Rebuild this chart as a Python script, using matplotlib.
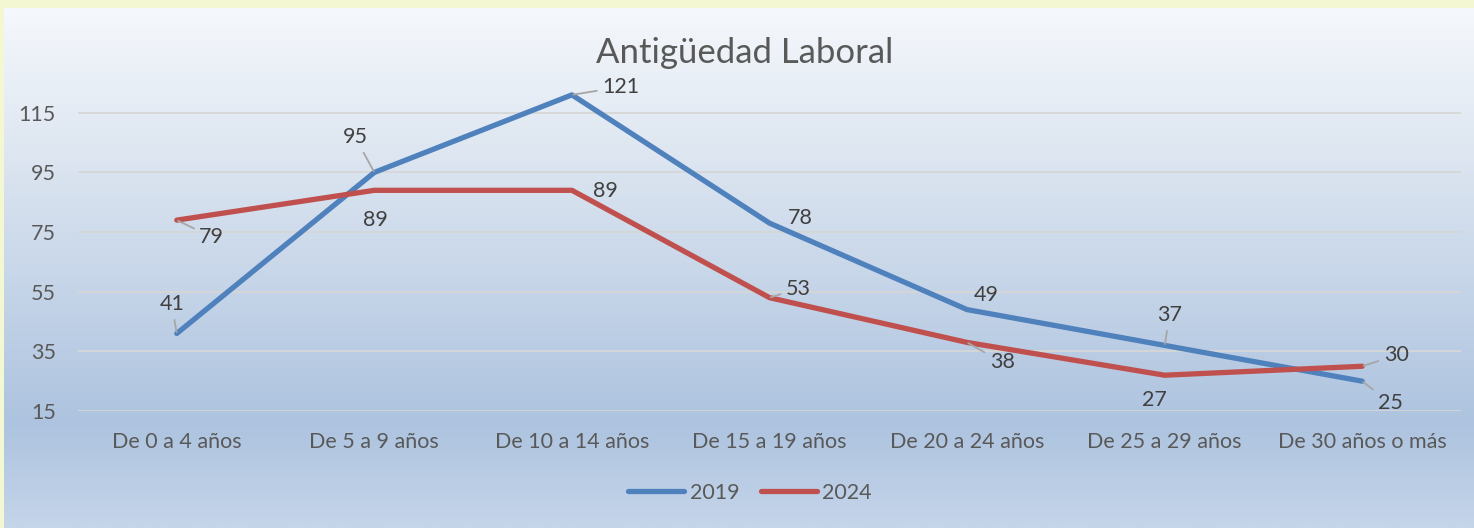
import numpy as np
import matplotlib.pyplot as plt
from matplotlib.colors import LinearSegmentedColormap

# Antigüedad laboral, 2019 vs 2024
categorias = ['De 0 a 4 años', 'De 5 a 9 años', 'De 10 a 14 años', 'De 15 a 19 años',
              'De 20 a 24 años', 'De 25 a 29 años', 'De 30 años o más']
v2019 = [41, 95, 121, 78, 49, 37, 25]
v2024 = [79, 89, 89, 53, 38, 27, 30]
yticks = [15, 35, 55, 75, 95, 115]

# label offsets in pixels (dx, dy) and whether a leader line is drawn
off2019 = [(-5, 29, True), (-19, 35, True), (49, 8, True), (31, 5, False),
           (19, 15, False), (5, 30, True), (28, -22, True)]
off2024 = [(35, -17, True), (1, -30, False), (34, -1, False), (29, 9, True),
           (35, -20, True), (-10, -25, False), (34, 11, True)]

W, H = 1474, 528
fig = plt.figure(figsize=(W / 100, H / 100), dpi=100)

# background: yellow strip + blue gradient chart area
bg = fig.add_axes([0, 0, 1, 1], zorder=-2)
bg.add_patch(plt.Rectangle((0, 0), W, H, color='#f3f8d2', zorder=0))
cmap = LinearSegmentedColormap.from_list('g', [(0, '#f5f8fc'), (0.25, '#e0e8f2'),
                                               (0.8, '#adc3df'), (1, '#c5d5ea')])
grad = np.linspace(0, 1, 256).reshape(-1, 1)
bg.imshow(grad, cmap=cmap, extent=(4, W, H, 8), aspect='auto', zorder=1)
bg.set_xlim(0, W)
bg.set_ylim(H, 0)
bg.axis('off')

ax = fig.add_axes([78 / W, 117 / H, (1461 - 78) / W, (454 - 117) / H])
ax.patch.set_alpha(0)
x = np.arange(len(categorias))
ax.plot(x, v2019, color='#4f81bd', lw=3.8, label='2019', solid_capstyle='round', zorder=3)
ax.plot(x, v2024, color='#c0504d', lw=3.8, label='2024', solid_capstyle='round', zorder=3)

ax.set_xlim(-0.5, len(categorias) - 0.5)
ax.set_ylim(15, 128)
ax.set_yticks(yticks)
ax.set_xticks(x)
ax.set_xticklabels(categorias)
ax.grid(axis='y', color='#d6d6d6', lw=1.3)
ax.set_axisbelow(True)
for s in ax.spines.values():
    s.set_visible(False)
ax.tick_params(length=0, labelsize=15.5, labelcolor='#595959')
ax.tick_params(axis='x', pad=15)
ax.tick_params(axis='y', pad=16)
for t in ax.get_xticklabels() + ax.get_yticklabels():
    t.set_fontfamily('Lato')


def etiquetas(vals, offs):
    for i, (v, (dx, dy, lead)) in enumerate(zip(vals, offs)):
        ap = None
        if lead:
            ap = dict(arrowstyle='-', color='#a6a6a6', lw=1.3, shrinkA=2, shrinkB=1)
        ax.annotate(str(v), (i, v), xytext=(dx * 0.72, dy * 0.72), textcoords='offset points',
                    ha='center', va='center', fontsize=15.5, color='#404040',
                    family='Lato', arrowprops=ap, zorder=4)


etiquetas(v2019, off2019)
etiquetas(v2024, off2024)

fig.text(745 / W, 1 - 53 / H, 'Antigüedad Laboral', ha='center', va='center',
         fontsize=25, color='#595959', family='Lato')

fig.legend(loc='center', bbox_to_anchor=(750 / W, 1 - 493 / H), ncol=2, frameon=False,
           prop={'family': 'Lato', 'size': 15.5}, labelcolor='#595959',
           handlelength=2.6, handletextpad=0.25, columnspacing=1.0)

fig.savefig('out.png', dpi=100)
